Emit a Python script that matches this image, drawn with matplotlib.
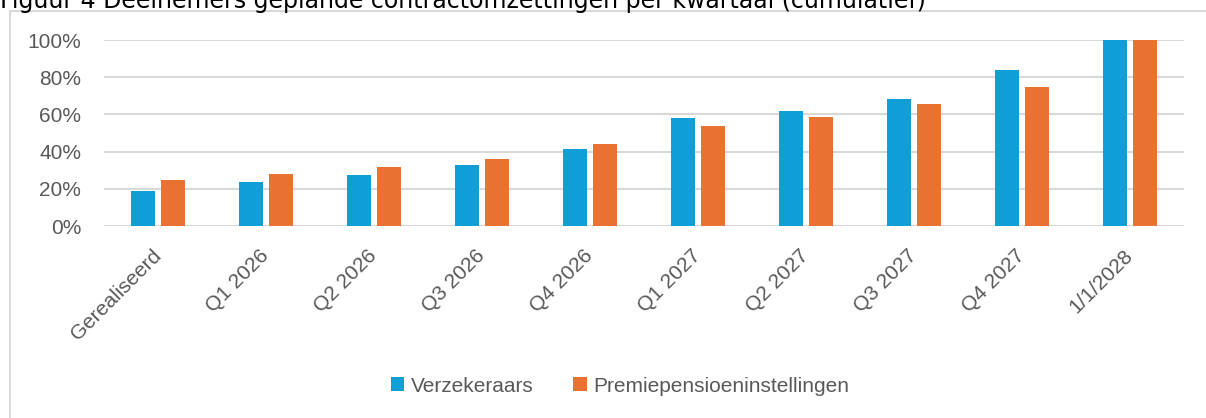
import matplotlib.pyplot as plt
import numpy as np
from matplotlib.patches import Rectangle

# categorieën en waarden (cumulatief, %)
categories = ["Gerealiseerd", "Q1 2026", "Q2 2026", "Q3 2026", "Q4 2026",
              "Q1 2027", "Q2 2027", "Q3 2027", "Q4 2027", "1/1/2028"]
verzekeraars = [19, 23.5, 27.5, 33, 41.5, 58, 62, 68.5, 84, 100]
ppi = [24.5, 28, 31.5, 36, 44, 54, 58.7, 65.5, 75, 100]
yticks = [0, 20, 40, 60, 80, 100]

BLUE = "#0F9ED5"
ORANGE = "#E97132"
GREY = "#595959"
GRID = "#D9D9D9"

plt.rcParams['font.family'] = ['Liberation Sans', 'DejaVu Sans']

W, H = 1206, 418
fig = plt.figure(figsize=(W / 100, H / 100), dpi=100)

# rand om de grafiek
fig.patches.append(Rectangle((10 / W, -0.1), 1.2, 1 - 11 / H + 0.1,
                             transform=fig.transFigure, fill=False,
                             edgecolor=GRID, lw=1.5))

# titel (deels afgesneden bovenaan, zoals in het origineel)
fig.text(0.0, 1 - 8 / H, "Figuur 4 Deelnemers geplande contractomzettingen per kwartaal (cumulatief)",
         family=['DejaVu Sans'], fontsize=17, color="black", va="baseline", ha="left")

ax = fig.add_axes([104 / W, 1 - 226 / H, (1184 - 104) / W, (226 - 40) / H])

x = np.arange(len(categories))
bw = 0.222
off = 0.139
ax.bar(x - off, verzekeraars, bw, color=BLUE, label="Verzekeraars", zorder=3)
ax.bar(x + off, ppi, bw, color=ORANGE, label="Premiepensioeninstellingen", zorder=3)

ax.set_xlim(-0.5, len(categories) - 0.5)
ax.set_ylim(0, 100)
ax.set_yticks(yticks)
ax.set_yticklabels([f"{v}%" for v in yticks])
ax.yaxis.grid(True, color=GRID, lw=1.5, zorder=0)
ax.set_axisbelow(True)
for s in ax.spines.values():
    s.set_visible(False)
ax.tick_params(axis='both', length=0, colors=GREY, labelsize=15)
ax.tick_params(axis='y', pad=16.5)

ax.set_xticks(x)
ax.set_xticklabels(categories, rotation=45, ha='right', va='center',
                   rotation_mode='anchor')
ax.tick_params(axis='x', pad=19)

leg = fig.legend(loc='center', bbox_to_anchor=(0.514, 1 - 386 / H), ncol=2,
                 frameon=False, fontsize=15, handlelength=0.65, handleheight=0.65,
                 handletextpad=0.3, columnspacing=1.9, labelcolor=GREY)

fig.savefig("out.png", dpi=100)
